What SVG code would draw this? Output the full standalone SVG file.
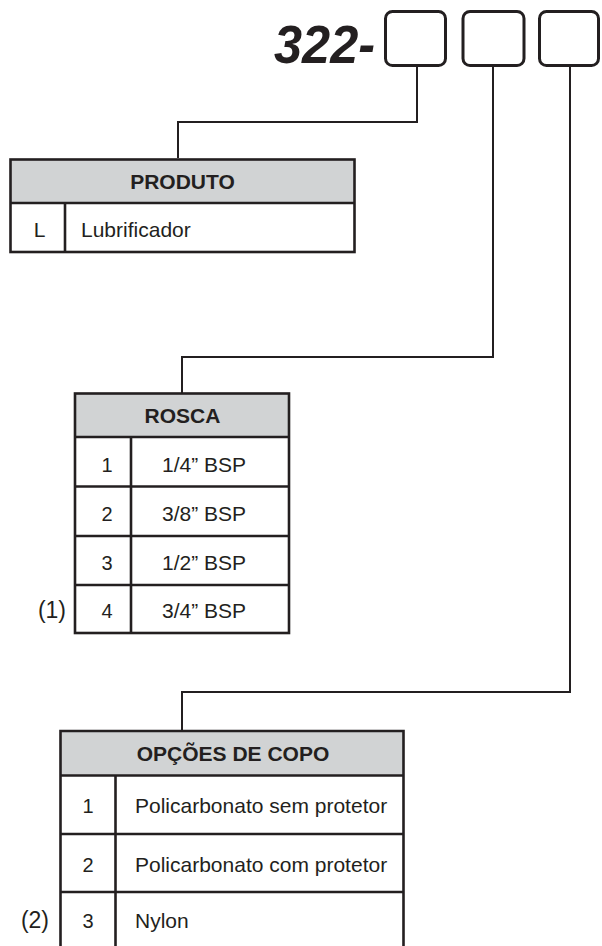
<svg xmlns="http://www.w3.org/2000/svg" width="602" height="946" viewBox="0 0 602 946">
<style>
.bg{fill:#ffffff}
.box{fill:#ffffff;stroke:#231f20;stroke-width:3}
.tbl{fill:none;stroke:#231f20;stroke-width:2.6}
.hdr{fill:#d1d3d4;stroke:none}
.cell{fill:#ffffff;stroke:none}
.conn{fill:none;stroke:#231f20;stroke-width:2}
text{font-family:"Liberation Sans",Arial,Helvetica,sans-serif;fill:#231f20}
.h{font-weight:bold;font-size:21px;text-anchor:middle}
.t{font-size:21px}
.c{font-size:21px;text-anchor:middle}
.n{font-size:20px;text-anchor:middle}
.note{font-size:23px;text-anchor:end}
.code{font-size:53px;font-weight:bold;font-style:italic}
</style>
<rect class="bg" x="0" y="0" width="602" height="946"/>

<g id="code">
  <text class="code" x="274" y="63" textLength="101" lengthAdjust="spacingAndGlyphs">322-</text>
  <rect class="box" x="385.5" y="11.5" width="60" height="54" rx="7"/>
  <rect class="box" x="463" y="11.5" width="61" height="54" rx="7"/>
  <rect class="box" x="539.5" y="11.5" width="59" height="54" rx="7"/>
</g>

<g id="connectors">
  <path class="conn" d="M417,65 V122 H178 V158"/>
  <path class="conn" d="M493,65 V357 H182 V393"/>
  <path class="conn" d="M570,65 V692 H182 V730"/>
</g>

<g id="produto">
  <rect class="hdr" x="10.5" y="159.5" width="344" height="43.5"/>
  <rect class="cell" x="10.5" y="203" width="344" height="49"/>
  <rect class="tbl" x="10.5" y="159.5" width="344" height="92.5"/>
  <line class="tbl" x1="10.5" y1="203" x2="354.5" y2="203"/>
  <line class="tbl" x1="65" y1="203" x2="65" y2="252"/>
  <text class="h" x="182.5" y="189">PRODUTO</text>
  <text class="c" x="39.5" y="237">L</text>
  <text class="t" x="81" y="237">Lubrificador</text>
</g>

<g id="rosca">
  <rect class="hdr" x="75" y="393.5" width="214" height="43"/>
  <rect class="tbl" x="75" y="393.5" width="214" height="239.5"/>
  <line class="tbl" x1="75" y1="437" x2="289" y2="437"/>
  <line class="tbl" x1="75" y1="486.5" x2="289" y2="486.5"/>
  <line class="tbl" x1="75" y1="536" x2="289" y2="536"/>
  <line class="tbl" x1="75" y1="585" x2="289" y2="585"/>
  <line class="tbl" x1="131" y1="437" x2="131" y2="633"/>
  <text class="h" x="182.5" y="422.5">ROSCA</text>
  <text class="n" x="107" y="471.5">1</text>
  <text class="c" x="204" y="471.5">1/4” BSP</text>
  <text class="n" x="107" y="521">2</text>
  <text class="c" x="204" y="521">3/8” BSP</text>
  <text class="n" x="107" y="570">3</text>
  <text class="c" x="204" y="570">1/2” BSP</text>
  <text class="n" x="107" y="617.5">4</text>
  <text class="c" x="204" y="617.5">3/4” BSP</text>
  <text class="note" x="66" y="618">(1)</text>
</g>

<g id="opcoes">
  <rect class="hdr" x="60.5" y="731" width="343" height="44"/>
  <path class="tbl" d="M60.5,950 V731 H403.5 V950"/>
  <line class="tbl" x1="60.5" y1="775.5" x2="403.5" y2="775.5"/>
  <line class="tbl" x1="60.5" y1="834" x2="403.5" y2="834"/>
  <line class="tbl" x1="60.5" y1="892" x2="403.5" y2="892"/>
  <line class="tbl" x1="115.5" y1="775.5" x2="115.5" y2="950"/>
  <text class="h" x="233" y="761">OPÇÕES DE COPO</text>
  <text class="n" x="88" y="813">1</text>
  <text class="t" x="135" y="813">Policarbonato sem protetor</text>
  <text class="n" x="88" y="871.5">2</text>
  <text class="t" x="135" y="871.5">Policarbonato com protetor</text>
  <text class="n" x="88" y="927.5">3</text>
  <text class="t" x="135" y="927.5">Nylon</text>
  <text class="note" x="49" y="927.5">(2)</text>
</g>
</svg>
